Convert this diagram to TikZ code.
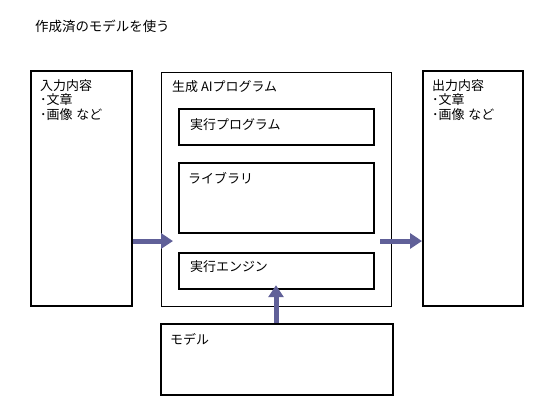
\documentclass[tikz,border=0pt]{standalone}
\usepackage{fontspec}
\setmainfont{Noto Sans CJK JP}
\usetikzlibrary{arrows.meta,calc}
\definecolor{arrowc}{RGB}{96,96,152}
\tikzset{
  thickbox/.style={draw=black,line width=2.2bp,inner sep=0pt,anchor=north west},
  thinbox/.style={draw=black,line width=1bp,inner sep=0pt,anchor=north west},
  txt/.style={anchor=north west,inner sep=0pt,align=left,font=\fontsize{13}{14.8}\selectfont},
  fat/.style={draw=arrowc,line width=5bp,-{Triangle[width=15bp,length=12bp]}}
}
\begin{document}
\begin{tikzpicture}[x=1bp,y=-1bp]
\useasboundingbox (0,0) rectangle (553,415);
\node[txt,font=\fontsize{13.5}{15}\selectfont] (title) at (35,20) {作成済のモデルを使う};
% left box
\node[thickbox,minimum width=101bp,minimum height=235bp] (L) at (30,70) {};
\node[txt] (Lt) at (40,79) {入力内容\\･文章\\･画像\hspace{0.3em}など};
% center box
\node[thinbox,minimum width=230bp,minimum height=234bp] (C) at (161,72) {};
\node[txt] (Ct) at (172,80) {生成 AIプログラム};
\node[thickbox,minimum width=195bp,minimum height=36bp] (P) at (178,108) {};
\node[txt] (Pt) at (190,118) {実行プログラム};
\node[thickbox,minimum width=195bp,minimum height=70bp] (Lib) at (178,162) {};
\node[txt] (Libt) at (188,172) {ライブラリ};
\node[thickbox,minimum width=195bp,minimum height=36bp] (E) at (178,252) {};
\node[txt] (Et) at (190,260) {実行エンジン};
% right box
\node[thickbox,minimum width=100bp,minimum height=235bp] (R) at (422,70) {};
\node[txt] (Rt) at (432,79) {出力内容\\･文章\\･画像\hspace{0.3em}など};
% model box
\node[thickbox,minimum width=232bp,minimum height=71bp] (M) at (160,323) {};
\node[txt] (Mt) at (170,333) {モデル};
% arrows
\coordinate (a1) at (L.east |- 0,241);
\coordinate (a2) at ($(C.west |- 0,241)+(12,0)$);
\draw[fat] (a1) -- (a2);
\coordinate (b1) at ($(C.east |- 0,241)+(-12,0)$);
\coordinate (b2) at (R.west |- 0,241);
\draw[fat] (b1) -- (b2);
\coordinate (c1) at (276,0 |- M.north);
\coordinate (c2) at ($(276,0 |- E.south)+(0,-5)$);
\draw[fat] (c1) -- (c2);
\end{tikzpicture}
\end{document}
